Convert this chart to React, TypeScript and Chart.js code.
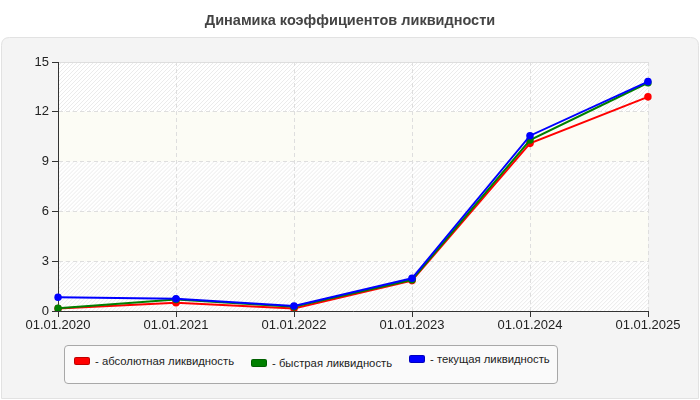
import React, { useEffect, useRef } from "react";
import { Chart, registerables } from "chart.js";

Chart.register(...registerables);

const categories = ["01.01.2020", "01.01.2021", "01.01.2022", "01.01.2023", "01.01.2024", "01.01.2025"];
const absoluteLiquidity = [0.15, 0.5, 0.15, 1.83, 10.1, 12.9];
const quickLiquidity = [0.16, 0.7, 0.25, 1.88, 10.3, 13.75];
const currentLiquidity = [0.83, 0.74, 0.3, 1.97, 10.56, 13.82];
const seriesNames = ["- абсолютная ликвидность", "- быстрая ликвидность", "- текущая ликвидность"];
const seriesColors = ["#ff0000", "#008000", "#0000ff"];
const titleText = "Динамика коэффициентов ликвидности";

const FONT = "'Liberation Sans', Arial, sans-serif";

const backgroundPlugin = {
  id: "bgPanel",
  beforeDraw(chart: any) {
    const ctx = chart.ctx;
    const { width, height, chartArea } = chart;
    ctx.save();
    ctx.fillStyle = "#ffffff";
    ctx.fillRect(0, 0, width, height);
    const x = 1.5, y = 37.5, w = width - 3, h = height - 39, r = 8;
    ctx.beginPath();
    ctx.moveTo(x + r, y);
    ctx.lineTo(x + w - r, y);
    ctx.quadraticCurveTo(x + w, y, x + w, y + r);
    ctx.lineTo(x + w, y + h);
    ctx.lineTo(x, y + h);
    ctx.lineTo(x, y + r);
    ctx.quadraticCurveTo(x, y, x + r, y);
    ctx.closePath();
    ctx.fillStyle = "#f4f4f4";
    ctx.fill();
    ctx.strokeStyle = "#e2e2e2";
    ctx.lineWidth = 1;
    ctx.stroke();

    const { left, top, right, bottom } = chartArea;
    const yScale = chart.scales.y;
    ctx.fillStyle = "#ffffff";
    ctx.fillRect(left, top, right - left, bottom - top);
    const ticks = yScale.ticks.map((t: any) => t.value);
    for (let i = 0; i < ticks.length - 1; i++) {
      const y0 = yScale.getPixelForValue(ticks[i]);
      const y1 = yScale.getPixelForValue(ticks[i + 1]);
      const ya = Math.min(y0, y1), yb = Math.max(y0, y1);
      const bh = yb - ya;
      if (i % 2 === 1) {
        ctx.fillStyle = "#fcfcf5";
        ctx.fillRect(left, ya, right - left, bh);
      } else {
        ctx.save();
        ctx.beginPath();
        ctx.rect(left, ya, right - left, bh);
        ctx.clip();
        ctx.strokeStyle = "#ebebeb";
        ctx.lineWidth = 1;
        ctx.beginPath();
        for (let d = -bh - 10; d < right - left + 10; d += 4) {
          ctx.moveTo(left + d, yb + 2);
          ctx.lineTo(left + d + bh + 4, ya - 2);
        }
        ctx.stroke();
        ctx.restore();
      }
    }
    ctx.strokeStyle = "#dddddd";
    ctx.beginPath();
    ctx.moveTo(left, top + 0.5);
    ctx.lineTo(right, top + 0.5);
    ctx.stroke();
    ctx.restore();
  },
};

export default function App() {
  const ref = useRef<HTMLCanvasElement | null>(null);

  useEffect(() => {
    document.body.style.margin = "0";
    const canvas = ref.current;
    if (!canvas) return;
    const datasetsSrc = [absoluteLiquidity, quickLiquidity, currentLiquidity];
    const chart = new Chart(canvas, {
      type: "line",
      data: {
        labels: categories,
        datasets: datasetsSrc.map((d, i) => ({
          label: seriesNames[i],
          data: d,
          borderColor: seriesColors[i],
          backgroundColor: seriesColors[i],
          borderWidth: 2,
          pointRadius: 3.8,
          pointBorderWidth: 0,
          pointHoverRadius: 3.8,
          fill: false,
          tension: 0,
          order: 2 - i,
        })),
      },
      options: {
        responsive: false,
        animation: false,
        events: [],
        layout: { padding: { left: 0, right: 52, top: 62, bottom: 64 } },
        plugins: {
          legend: { display: false },
          tooltip: { enabled: false },
          title: { display: false },
        },
        scales: {
          x: {
            type: "category",
            offset: false,
            afterFit: (s: any) => { s.height = 25; },
            grid: {
              color: "#dedede",
              tickColor: "#333333",
              tickLength: 6,
              tickBorderDash: [],
            },
            border: { display: true, color: "#333333", width: 1, dash: [4, 3] },
            ticks: {
              color: "#222222",
              font: { family: FONT, size: 13 },
              padding: 1,
              maxRotation: 0,
              autoSkip: false,
            },
          },
          y: {
            min: 0,
            max: 15,
            afterFit: (s: any) => { s.width = 58; },
            grid: {
              color: "#dedede",
              tickColor: "#333333",
              tickLength: 6,
              tickBorderDash: [],
            },
            border: { display: true, color: "#333333", width: 1, dash: [4, 3] },
            ticks: {
              stepSize: 3,
              color: "#222222",
              font: { family: FONT, size: 13 },
              padding: 3,
            },
          },
        },
      },
      plugins: [backgroundPlugin],
    } as any);
    return () => chart.destroy();
  }, []);

  return (
    <div style={{ position: "absolute", left: 0, top: 0, width: 700, height: 400, fontFamily: FONT }}>
      <canvas ref={ref} width={700} height={400} style={{ display: "block" }} />
      <div
        style={{
          position: "absolute",
          left: 0,
          top: 11,
          width: 700,
          textAlign: "center",
          fontSize: 14.5,
          fontWeight: "bold",
          color: "#444444",
          lineHeight: "18px",
        }}
      >
        {titleText}
      </div>
      <div
        style={{
          position: "absolute",
          left: 64,
          top: 345,
          width: 492,
          height: 37,
          border: "1px solid #a8a8a8",
          borderRadius: 4,
          background: "#fafafa",
        }}
      >
        {seriesNames.map((name, i) => (
          <div
            key={name}
            style={{
              position: "absolute",
              left: [9, 186, 344][i],
              top: [8, 10, 6][i],
              display: "flex",
              alignItems: "center",
              fontSize: 11.3,
              color: "#222222",
              whiteSpace: "nowrap",
              lineHeight: "14px",
            }}
          >
            <span
              style={{
                display: "inline-block",
                width: 14,
                height: 6,
                background: seriesColors[i],
                border: "1px solid rgba(0,0,0,0.25)",
                borderRadius: 2,
                marginRight: 5,
              }}
            />
            <span>{name}</span>
          </div>
        ))}
      </div>
    </div>
  );
}
